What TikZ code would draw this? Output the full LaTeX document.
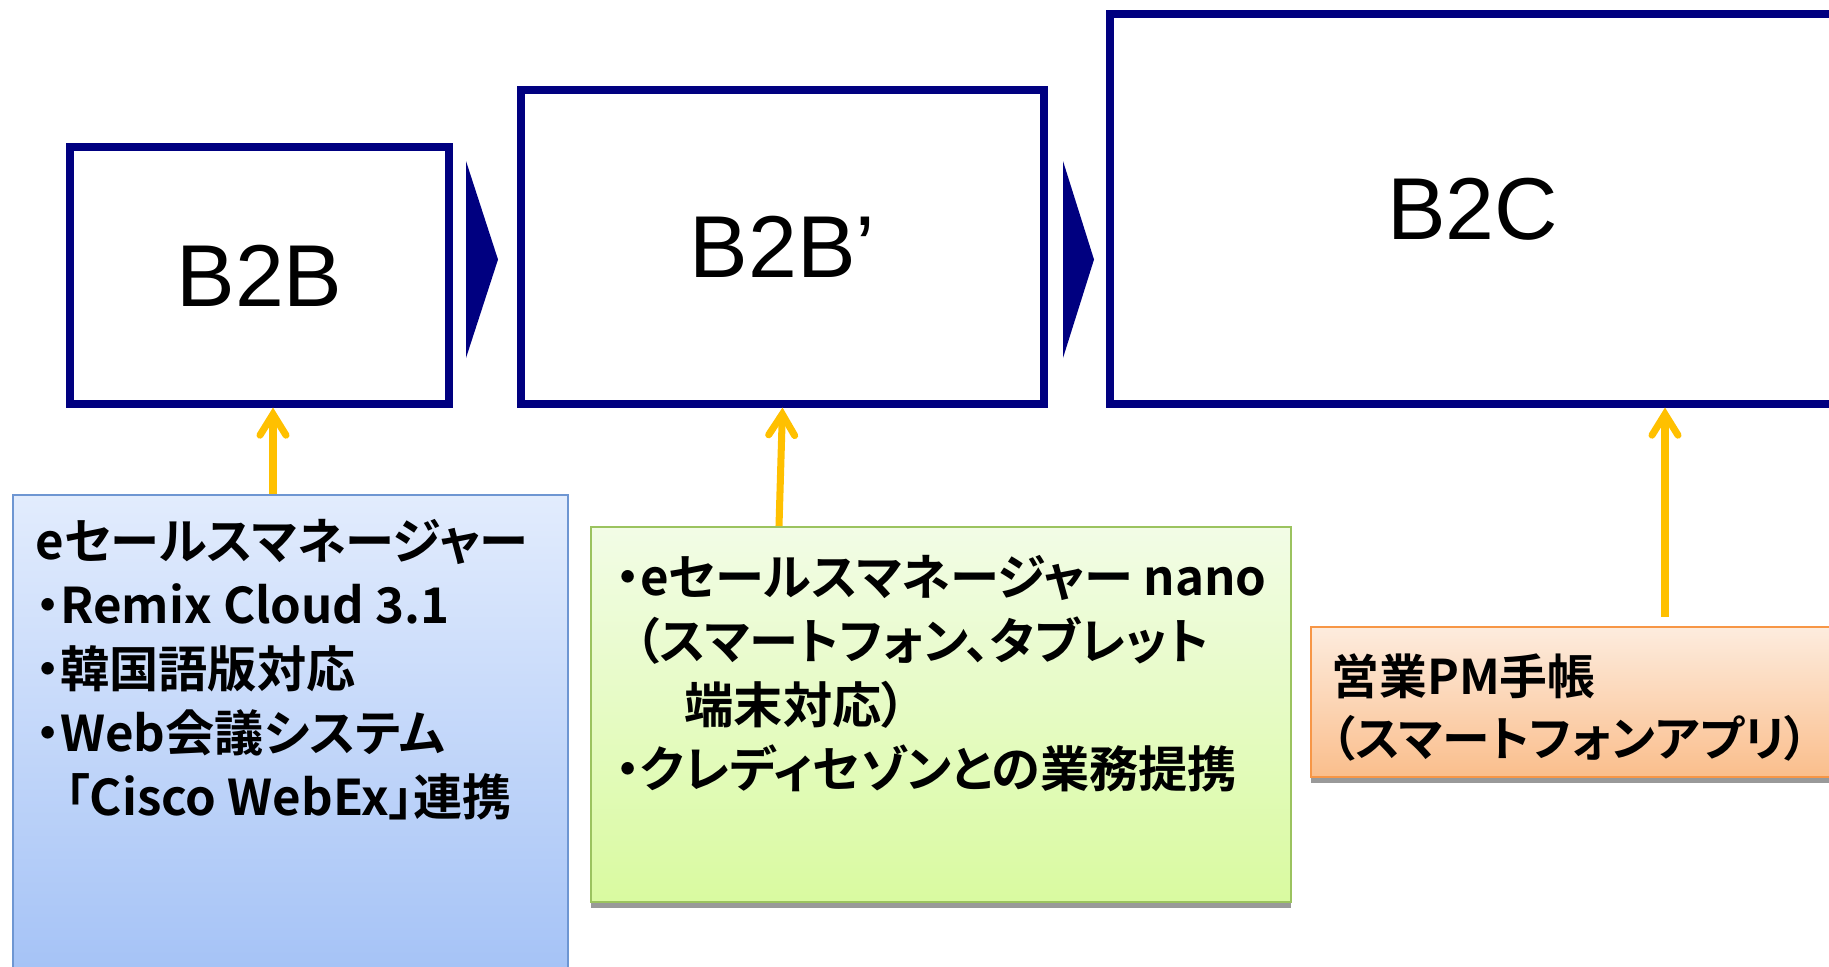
\documentclass[tikz,border=0pt]{standalone}
\usepackage{fontspec}
\setmainfont{Liberation Sans}
\newfontfamily\jpfont[RawFeature=+palt]{Noto Sans CJK JP Bold}
\usetikzlibrary{arrows.meta,shadows}
\definecolor{boxnavy}{RGB}{0,0,128}
\definecolor{arrowgold}{RGB}{255,192,0}
\definecolor{bluetop}{RGB}{226,236,253}
\definecolor{bluebot}{RGB}{164,194,246}
\definecolor{blueline}{RGB}{110,150,210}
\definecolor{greentop}{RGB}{242,252,230}
\definecolor{greenbot}{RGB}{217,250,160}
\definecolor{greenline}{RGB}{155,195,95}
\definecolor{orangetop}{RGB}{253,236,222}
\definecolor{orangebot}{RGB}{250,190,140}
\definecolor{orangeline}{RGB}{247,150,70}
\tikzset{
  stagebox/.style={draw=boxnavy,line width=2pt,inner sep=0pt,font=\fontsize{25}{29}\selectfont},
  notebox/.style={line width=0.6pt,inner sep=0pt},
  noteshadow/.style={drop shadow={shadow xshift=0pt,shadow yshift=-0.6mm,fill=black!40,opacity=1}},
  infotext/.style={anchor=north west,align=left,inner sep=0pt,font=\jpfont\fontsize{14}{18.2}\selectfont},
  pushup/.style={draw=arrowgold,line width=2pt,-{Straight Barb[length=2.1mm,width=2.6mm,line cap=round]}}
}
\begin{document}
\begin{tikzpicture}
  \useasboundingbox (0,0) rectangle (18.29,-9.66);
  % stages
  \node [stagebox,minimum width=3.79cm,minimum height=2.57cm] (b2b) at (2.595,-2.755) {B2B};
  \node [stagebox,minimum width=5.23cm,minimum height=3.14cm] (b2bp) at (7.825,-2.47) {B2B’};
  \node [stagebox,minimum width=7.25cm,minimum height=3.90cm] (b2c) at (14.725,-2.09) {B2C};
  \fill [boxnavy] (4.66,-1.61) -- (4.98,-2.595) -- (4.66,-3.58) -- cycle;
  \fill [boxnavy] (10.63,-1.61) -- (10.94,-2.595) -- (10.63,-3.58) -- cycle;
  % products
  \node [notebox,draw=blueline,top color=bluetop,bottom color=bluebot,minimum width=5.55cm,minimum height=4.85cm] (ems) at (2.905,-7.375) {};
  \node [notebox,noteshadow,draw=greenline,top color=greentop,bottom color=greenbot,minimum width=7.00cm,minimum height=3.75cm] (nano) at (9.41,-7.145) {};
  \node [notebox,noteshadow,draw=orangeline,top color=orangetop,bottom color=orangebot,minimum width=5.24cm,minimum height=1.50cm] (pm) at (15.73,-7.02) {};
  \node [infotext] (emstext) at (0.35,-5.19) {eセールスマネージャー\\・Remix Cloud 3.1\\・韓国語版対応\\・Web会議システム\\\hspace{0.6em}「Cisco WebEx」連携};
  \node [infotext] (nanotext) at (6.15,-5.55) {・eセールスマネージャー nano\\\hspace{0.4em}（スマートフォン、タブレット\\\hspace{1.4em}端末対応）\\・クレディセゾンとの業務提携};
  \node [infotext,font=\jpfont\fontsize{13.6}{17.6}\selectfont] (pmtext) at (13.31,-6.53) {営業PM手帳\\（スマートフォンアプリ）};
  % arrows
  \coordinate (a1) at ([xshift=-1.75mm]ems.north);
  \coordinate (a3) at ([xshift=9.2mm,yshift=0.9mm]pm.north);
  \draw [pushup] (a1) -- (a1 |- b2b.south);
  \draw [pushup] ([xshift=-16.2mm]nano.north) -- (b2bp.south);
  \draw [pushup] (a3) -- (a3 |- b2c.south);
\end{tikzpicture}
\end{document}
